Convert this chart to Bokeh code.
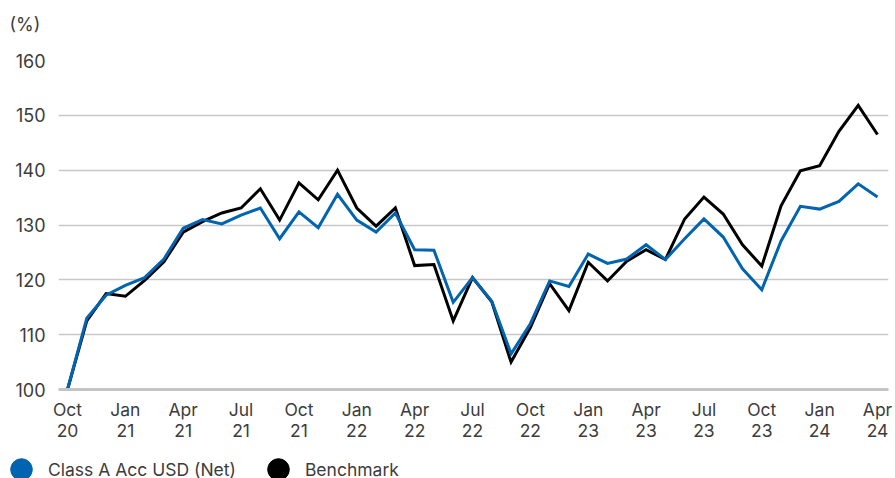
from bokeh.plotting import figure
from bokeh.models import ColumnDataSource, FixedTicker, Legend, Range1d
from bokeh.layouts import column
from bokeh.embed import file_html
from bokeh.resources import INLINE

# ---- data ----
months = ["Oct 20", "Nov 20", "Dec 20", "Jan 21", "Feb 21", "Mar 21", "Apr 21", "May 21",
          "Jun 21", "Jul 21", "Aug 21", "Sep 21", "Oct 21", "Nov 21", "Dec 21", "Jan 22",
          "Feb 22", "Mar 22", "Apr 22", "May 22", "Jun 22", "Jul 22", "Aug 22", "Sep 22",
          "Oct 22", "Nov 22", "Dec 22", "Jan 23", "Feb 23", "Mar 23", "Apr 23", "May 23",
          "Jun 23", "Jul 23", "Aug 23", "Sep 23", "Oct 23", "Nov 23", "Dec 23", "Jan 24",
          "Feb 24", "Mar 24", "Apr 24"]
fund = [100.0, 113.0, 117.2, 119.0, 120.4, 123.8, 129.4, 131.0, 130.2, 131.8, 133.1,
        127.5, 132.4, 129.5, 135.6, 130.9, 128.7, 132.2, 125.5, 125.4, 115.9, 120.4,
        116.1, 106.5, 112.0, 119.8, 118.8, 124.7, 123.0, 123.8, 126.4, 123.7, 127.5,
        131.1, 127.8, 122.0, 118.2, 127.1, 133.4, 132.9, 134.3, 137.5, 135.1]
bench = [100.0, 112.5, 117.5, 117.0, 119.9, 123.3, 128.7, 130.6, 132.2, 133.1, 136.6,
         130.9, 137.7, 134.6, 140.0, 133.1, 129.8, 133.1, 122.6, 122.8, 112.5, 120.4,
         116.0, 105.0, 111.3, 119.3, 114.4, 123.2, 119.8, 123.4, 125.5, 123.7, 131.1,
         135.1, 132.0, 126.4, 122.5, 133.5, 139.9, 140.8, 147.1, 151.8, 146.5]
tick_labels = ["Oct\n20", "Jan\n21", "Apr\n21", "Jul\n21", "Oct\n21", "Jan\n22", "Apr\n22",
               "Jul\n22", "Oct\n22", "Jan\n23", "Apr\n23", "Jul\n23", "Oct\n23", "Jan\n24",
               "Apr\n24"]
y_ticks = [100, 110, 120, 130, 140, 150, 160]
series_names = ["Class A Acc USD (Net)", "Benchmark"]

FUND_COLOR = "#0064B0"
BENCH_COLOR = "#000000"
TEXT_COLOR = "#3c3c3c"
FONT = "Inter"

x = list(range(len(months)))
src = ColumnDataSource(dict(x=x, fund=fund, bench=bench))

p = figure(width=895, height=443, output_backend="svg", toolbar_location=None,
           x_range=Range1d(-0.467, 42.57), y_range=Range1d(100, 160),
           min_border_left=58, min_border_right=7, min_border_top=60, min_border_bottom=50)
p.outline_line_color = None
p.background_fill_color = "white"
p.border_fill_color = "white"

# title "(%)" (second, blank line lifts it up in the top margin)
p.title.text = "(%)\n "
p.title.align = "left"
p.title.offset = -49
p.title.standoff = 10
p.title.text_font = FONT
p.title.text_font_size = "18px"
p.title.text_font_style = "normal"
p.title.text_color = TEXT_COLOR

# lines
p.line("x", "bench", source=src, line_color=BENCH_COLOR, line_width=3, line_join="miter")
p.line("x", "fund", source=src, line_color=FUND_COLOR, line_width=3, line_join="miter")

# x axis
xa = p.xaxis[0]
xa.ticker = FixedTicker(ticks=x[::3])
xa.major_label_overrides = {t: lab for t, lab in zip(x[::3], tick_labels)}
xa.axis_line_color = "#c4c4c4"
xa.axis_line_width = 3
xa.major_tick_line_color = None
xa.major_tick_out = 0
xa.major_tick_in = 0
xa.minor_tick_line_color = None
xa.major_label_standoff = 9
xa.major_label_text_font = FONT
xa.major_label_text_font_size = "17.5px"
xa.major_label_text_line_height = 1.0
xa.major_label_text_color = TEXT_COLOR

# y axis
ya = p.yaxis[0]
ya.ticker = FixedTicker(ticks=y_ticks)
ya.axis_line_color = None
ya.major_tick_line_color = None
ya.major_tick_out = 0
ya.major_tick_in = 0
ya.minor_tick_line_color = None
ya.major_label_standoff = 13
ya.major_label_text_font = FONT
ya.major_label_text_font_size = "18px"
ya.major_label_text_color = TEXT_COLOR

p.xgrid.grid_line_color = None
p.ygrid.grid_line_color = "#c8c8c8"
p.ygrid.grid_line_width = 1.5

# ---- legend strip below ----
lp = figure(width=895, height=35, output_backend="svg", toolbar_location=None,
            x_range=Range1d(0, 1), y_range=Range1d(0, 1),
            x_axis_location=None, y_axis_location=None, min_border=0)
lp.outline_line_color = None
lp.xgrid.visible = False
lp.ygrid.visible = False
# legend renderers reuse the series data; the values lie outside this strip's range
d1 = lp.scatter("x", "fund", source=src, marker="circle", fill_color=FUND_COLOR, line_color=FUND_COLOR)
d2 = lp.scatter("x", "bench", source=src, marker="circle", fill_color=BENCH_COLOR, line_color=BENCH_COLOR)
legend = Legend(items=[(series_names[0], [d1]), (series_names[1], [d2])],
                orientation="horizontal", location=(-6, -18),
                glyph_width=54, glyph_height=54, label_standoff=0, spacing=15,
                padding=0, margin=0, border_line_color=None, background_fill_alpha=0,
                label_text_font=FONT, label_text_font_size="17.5px",
                label_text_color=TEXT_COLOR)
lp.add_layout(legend, "center")

layout = column(p, column(lp, spacing=0), spacing=0)
open("out.html", "w").write(file_html(layout, INLINE))
